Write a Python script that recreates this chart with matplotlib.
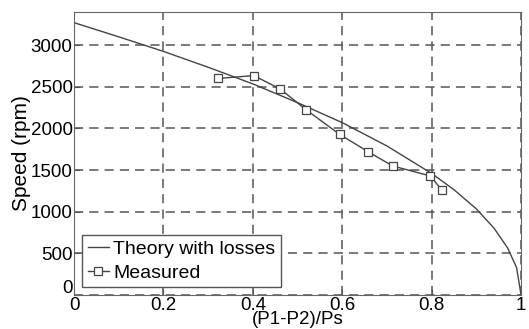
import numpy as np
import matplotlib.pyplot as plt
import matplotlib.transforms as mtransforms

plt.rcParams['font.family'] = ['Liberation Sans', 'DejaVu Sans']

# theory curve
theory_x = [0.0, 0.1, 0.2, 0.3, 0.4, 0.5, 0.6, 0.7, 0.8, 0.85, 0.9, 0.94, 0.97, 0.99, 1.0]
theory_speed = [3270, 3100, 2925, 2735, 2535, 2310, 2070, 1790, 1460, 1265, 1035, 800, 565, 330, 0]

# measured points
meas_x = [0.322, 0.402, 0.461, 0.519, 0.594, 0.658, 0.713, 0.797, 0.823]
meas_speed = [2600, 2635, 2475, 2225, 1930, 1720, 1550, 1430, 1260]

xticks = [0, 0.2, 0.4, 0.6, 0.8, 1]
xticklabels = ['0', '0.2', '0.4', '0.6', '0.8', '1']
yticks = [0, 500, 1000, 1500, 2000, 2500, 3000]

fig = plt.figure(figsize=(5.29, 3.29), dpi=100)
ax = fig.add_axes([0.140, 0.103, 0.845, 0.861])

line_color = '#444444'
ax.plot(theory_x, theory_speed, color=line_color, linewidth=1.0, label='Theory with losses')
ax.plot(meas_x, meas_speed, color=line_color, linewidth=1.0, marker='s',
        markersize=6, markerfacecolor='white', markeredgecolor=line_color,
        markeredgewidth=0.9, label='Measured')

ax.set_xlim(0, 1)
ax.set_ylim(0, 3400)
ax.set_xticks(xticks)
ax.set_xticklabels(xticklabels)
ax.set_yticks(yticks)
ax.tick_params(direction='in', length=4, labelsize=13.5, pad=1, color='#555555')
ax.grid(True, linestyle=(0, (6, 4)), color='#555555', linewidth=1.1)
for s in ax.spines.values():
    s.set_color('#666666')

# the y "0" sits a little above the axis so it clears the x "0"
zero_lab = ax.get_yticklabels()[0]
zero_lab.set_transform(zero_lab.get_transform() +
                       mtransforms.ScaledTranslation(0, 6 / 72, fig.dpi_scale_trans))

ax.set_xlabel('(P1-P2)/Ps', fontsize=13.5, labelpad=-2)
ax.set_ylabel('Speed (rpm)', fontsize=15, labelpad=0)

leg = ax.legend(loc='lower left', fontsize=14, fancybox=False, framealpha=1,
                edgecolor='#555555', handlelength=1.1, handletextpad=0.2,
                borderpad=0.3, labelspacing=0.3, borderaxespad=0.4)
leg.get_frame().set_linewidth(1.0)

fig.savefig('out.png', dpi=100)
